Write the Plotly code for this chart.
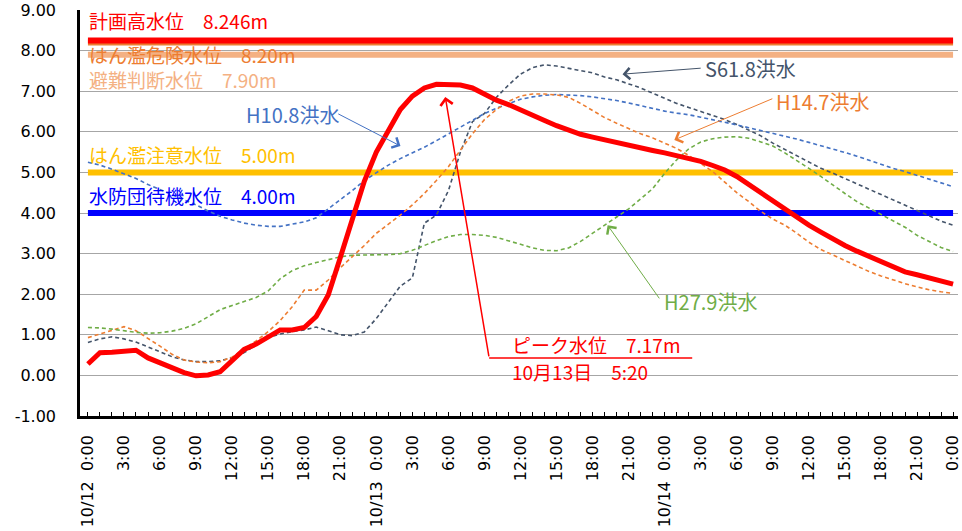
import plotly.graph_objects as go

# ---------------- data ----------------
hours = list(range(73))  # 10/12 0:00 .. 10/15 0:00, hourly

tick_hours = list(range(0, 73, 3))
tick_names = ["10/12\u00a0\u00a00:00", "3:00", "6:00", "9:00", "12:00", "15:00", "18:00", "21:00",
              "10/13\u00a0\u00a00:00", "3:00", "6:00", "9:00", "12:00", "15:00", "18:00", "21:00",
              "10/14\u00a0\u00a00:00", "3:00", "6:00", "9:00", "12:00", "15:00", "18:00", "21:00",
              "0:00"]

observed = [0.28, 0.56, 0.57, 0.60, 0.62, 0.43, 0.30, 0.19, 0.07, -0.01,
            0.01, 0.09, 0.38, 0.64, 0.77, 0.95, 1.12, 1.12, 1.18, 1.45,
            1.98, 2.90, 3.80, 4.78, 5.50, 6.05, 6.55, 6.88, 7.08, 7.17,
            7.17, 7.15, 7.08, 6.92, 6.78, 6.67, 6.55, 6.42, 6.28, 6.15,
            6.03, 5.94, 5.87, 5.80, 5.72, 5.66, 5.60, 5.54, 5.48, 5.41,
            5.35, 5.27, 5.17, 5.06, 4.90, 4.70, 4.50, 4.30, 4.08, 3.88,
            3.70, 3.53, 3.36, 3.20, 3.06, 2.94, 2.82, 2.68, 2.55, 2.48,
            2.41, 2.31, 2.25]

s61_8 = [0.81, 0.90, 0.95, 0.90, 0.82, 0.70, 0.58, 0.46, 0.38, 0.34,
         0.34, 0.36, 0.44, 0.56, 0.75, 0.93, 1.02, 1.08, 1.12, 1.19,
         1.10, 1.00, 0.98, 1.07, 1.40, 1.80, 2.20, 2.40, 3.75, 3.95,
         4.55, 5.50, 6.25, 6.45, 6.85, 7.15, 7.42, 7.58, 7.65, 7.62,
         7.56, 7.50, 7.45, 7.35, 7.28, 7.18, 7.08, 6.95, 6.82, 6.70,
         6.60, 6.50, 6.40, 6.30, 6.18, 6.05, 5.90, 5.72, 5.56, 5.40,
         5.25, 5.10, 4.98, 4.85, 4.70, 4.58, 4.45, 4.33, 4.20, 4.05,
         3.92, 3.80, 3.70]

h10_8 = [5.25, 5.18, 5.08, 4.97, 4.85, 4.70, 4.58, 4.45, 4.32, 4.20,
         4.05, 3.92, 3.83, 3.75, 3.70, 3.67, 3.67, 3.72, 3.78, 3.88,
         4.10, 4.32, 4.55, 4.80, 5.00, 5.18, 5.34, 5.47, 5.62, 5.78,
         5.95, 6.10, 6.28, 6.45, 6.58, 6.70, 6.80, 6.86, 6.90, 6.92,
         6.91, 6.89, 6.86, 6.82, 6.77, 6.71, 6.64, 6.58, 6.51, 6.46,
         6.42, 6.36, 6.30, 6.23, 6.17, 6.10, 6.03, 5.96, 5.90, 5.82,
         5.74, 5.66, 5.58, 5.49, 5.40, 5.30, 5.20, 5.10, 5.02, 4.93,
         4.84, 4.74, 4.65]

h14_7 = [0.93, 1.02, 1.12, 1.20, 1.10, 0.92, 0.72, 0.52, 0.38, 0.33,
         0.31, 0.34, 0.45, 0.65, 0.85, 1.08, 1.35, 1.69, 2.10, 2.10,
         2.35, 2.65, 2.92, 3.20, 3.50, 3.72, 3.95, 4.20, 4.48, 4.80,
         5.14, 5.55, 5.95, 6.30, 6.55, 6.75, 6.88, 6.93, 6.93, 6.91,
         6.85, 6.70, 6.52, 6.35, 6.21, 6.08, 5.95, 5.85, 5.72, 5.59,
         5.42, 5.22, 5.02, 4.76, 4.50, 4.28, 4.04, 3.85, 3.70, 3.50,
         3.28, 3.10, 2.96, 2.82, 2.68, 2.56, 2.45, 2.35, 2.26, 2.18,
         2.11, 2.06, 2.02]

h27_9 = [1.18, 1.17, 1.14, 1.10, 1.06, 1.04, 1.05, 1.09, 1.16, 1.27,
         1.45, 1.62, 1.72, 1.82, 1.92, 2.08, 2.38, 2.58, 2.70, 2.78,
         2.85, 2.92, 2.96, 2.97, 2.97, 2.97, 3.00, 3.08, 3.20, 3.32,
         3.42, 3.47, 3.47, 3.45, 3.40, 3.32, 3.23, 3.14, 3.08, 3.07,
         3.14, 3.30, 3.50, 3.70, 3.90, 4.10, 4.35, 4.60, 4.98, 5.31,
         5.58, 5.75, 5.83, 5.87, 5.88, 5.84, 5.75, 5.65, 5.48, 5.30,
         5.10, 4.90, 4.68, 4.48, 4.28, 4.12, 3.95, 3.80, 3.65, 3.45,
         3.30, 3.15, 3.05]

levels = [8.20, 8.246, 7.90, 5.00, 4.00]
level_labels = ["はん濫危険水位　8.20m", "計画高水位　8.246m", "避難判断水位　7.90m",
                "はん濫注意水位　5.00m", "水防団待機水位　4.00m"]
level_colors = ["#ED7D31", "#FF0000", "#F4B183", "#FFC000", "#0000FF"]
level_label_y = [7.90, 8.73, 7.29, 5.43, 4.42]

y_ticks = list(range(-1, 10))

JP = "Noto Sans CJK JP"

fig = go.Figure()

# threshold lines
for lv, col in zip(levels, level_colors):
    fig.add_trace(go.Scatter(x=[hours[0], hours[-1]], y=[lv, lv], mode="lines",
                             line=dict(color=col, width=6), showlegend=False, hoverinfo="skip"))

series = [("S61.8洪水", s61_8, "#44546A"), ("H10.8洪水", h10_8, "#4472C4"),
          ("H14.7洪水", h14_7, "#ED7D31"), ("H27.9洪水", h27_9, "#70AD47")]
for name, vals, col in series:
    fig.add_trace(go.Scatter(x=hours, y=vals, mode="lines", name=name,
                             line=dict(color=col, width=1.6, dash="4px,3px"),
                             showlegend=False))

fig.add_trace(go.Scatter(x=hours, y=observed, mode="lines", name="観測水位",
                         line=dict(color="#FF0000", width=5), showlegend=False))

annotations = []
for lab, col, yy in zip(level_labels, level_colors, level_label_y):
    annotations.append(dict(x=0.0, y=yy, xref="x", yref="y", text=lab, showarrow=False,
                            xanchor="left", yanchor="middle", borderpad=0,
                            font=dict(family=JP, size=19, color=col)))

# series labels with arrows (tip, tail, text position)
series_labels = [
    ("S61.8洪水", "#44546A", (44.49, 7.42), (51.12, 7.57), (51.2, 7.57)),
    ("H14.7洪水", "#ED7D31", (48.80, 5.80), (57.08, 6.83), (57.1, 6.74)),
    ("H10.8洪水", "#4472C4", (26.01, 5.65), (20.71, 6.46), (13.0, 6.43)),
    ("H27.9洪水", "#70AD47", (43.25, 3.70), (47.64, 1.86), (47.8, 1.81)),
]
for lab, col, tip, tail, tpos in series_labels:
    annotations.append(dict(x=tip[0], y=tip[1], ax=tail[0], ay=tail[1], xref="x", yref="y",
                            axref="x", ayref="y", text="", showarrow=True, arrowhead=4,
                            arrowsize=2.2, arrowwidth=1, arrowcolor=col, standoff=0))
    annotations.append(dict(x=tpos[0], y=tpos[1], xref="x", yref="y", text=lab, showarrow=False,
                            xanchor="left", yanchor="middle",
                            font=dict(family=JP, size=20, color=col)))

# peak annotation
annotations.append(dict(x=29.74, y=6.86, ax=33.39, ay=0.43, xref="x", yref="y",
                        axref="x", ayref="y", text="", showarrow=True, arrowhead=4,
                        arrowsize=1.6, arrowwidth=1.5, arrowcolor="#FF0000", standoff=0))
annotations.append(dict(x=35.1, y=0.75, xref="x", yref="y", text="ピーク水位　7.17m",
                        showarrow=False, xanchor="left", yanchor="middle",
                        font=dict(family=JP, size=19, color="#FF0000")))
annotations.append(dict(x=35.1, y=0.09, xref="x", yref="y", text="10月13日　5:20",
                        showarrow=False, xanchor="left", yanchor="middle",
                        font=dict(family=JP, size=19, color="#FF0000")))

shapes = [dict(type="line", xref="x", yref="y", x0=33.39, x1=50.29, y0=0.43, y1=0.43,
               line=dict(color="#FF0000", width=1.5))]

tick_text = [tick_names[tick_hours.index(h)] if h in tick_hours else "" for h in hours]

fig.update_layout(
    width=962, height=531, autosize=False,
    margin=dict(l=80, r=0, t=10, b=115),
    paper_bgcolor="white", plot_bgcolor="white",
    showlegend=False,
    annotations=annotations, shapes=shapes,
    xaxis=dict(range=[-0.66, 72.41], tickmode="array", tickvals=hours, ticktext=tick_text,
               tickangle=-90, ticks="inside", ticklen=4, tickwidth=1, tickcolor="black",
               showline=True, linecolor="black", linewidth=2.5, showgrid=False, zeroline=False,
               tickfont=dict(family="DejaVu Sans", size=16, color="black"),
               ticklabelstandoff=10, ticklabeloverflow="allow"),
    yaxis=dict(range=[-1, 9], tickmode="array", tickvals=y_ticks,
               ticktext=[f"{v:.2f}" for v in y_ticks],
               showgrid=True, gridcolor="#A6A6A6", gridwidth=1,
               showline=True, linecolor="black", linewidth=2.5, ticks="", zeroline=False,
               tickfont=dict(family="DejaVu Sans", size=16, color="black"),
               ticklabelstandoff=18),
)

fig.write_html("out.html", config={"displayModeBar": False},
               post_script="document.body.style.margin='0';")
